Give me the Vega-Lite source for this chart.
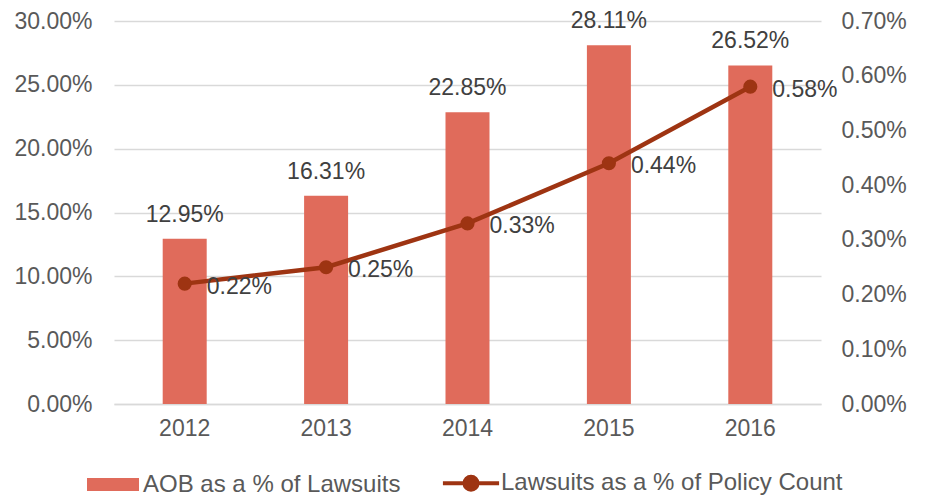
{
  "$schema": "https://vega.github.io/schema/vega-lite/v6.json",
  "autosize": "none",
  "width": 707,
  "height": 383,
  "padding": {"left": 114, "top": 21, "right": 105, "bottom": 91},
  "background": "white",
  "config": {
    "font": "Liberation Sans",
    "view": {"stroke": null},
    "axis": {"labelFont": "Liberation Sans", "labelFontSize": 23, "labelColor": "#595959", "ticks": false, "title": null},
    "legend": {"labelFont": "Liberation Sans"}
  },
  "data": {
    "values": [
      {"year": "2012", "aob": 0.1295, "law": 0.0022},
      {"year": "2013", "aob": 0.1631, "law": 0.0025},
      {"year": "2014", "aob": 0.2285, "law": 0.0033},
      {"year": "2015", "aob": 0.2811, "law": 0.0044},
      {"year": "2016", "aob": 0.2652, "law": 0.0058}
    ]
  },
  "encoding": {
    "x": {
      "field": "year", "type": "nominal",
      "scale": {"paddingInner": 0, "paddingOuter": 0},
      "axis": {"labelAngle": 0, "domainColor": "#D9D9D9", "domainWidth": 1.5, "labelPadding": 13, "grid": false}
    }
  },
  "layer": [
    {
      "encoding": {
        "y": {
          "field": "aob", "type": "quantitative",
          "scale": {"domain": [0, 0.3], "nice": false},
          "axis": {"orient": "left", "format": ".2%", "values": [0, 0.05, 0.1, 0.15, 0.2, 0.25, 0.3], "domain": false, "grid": true, "gridColor": "#D9D9D9", "gridWidth": 1.5, "labelPadding": 22}
        }
      },
      "layer": [
        {
          "mark": {"type": "bar", "size": 44},
          "encoding": {
            "color": {
              "datum": "AOB as a % of Lawsuits",
              "scale": {"domain": ["AOB as a % of Lawsuits", "Lawsuits as a % of Policy Count"], "range": ["#E06B5B", "#9E3412"]},
              "legend": {
                "orient": "none", "legendX": -13, "legendY": 450, "direction": "horizontal", "title": null,
                "labelFontSize": 24, "labelColor": "#595959", "labelOffset": 18, "labelLimit": 1000,
                "symbolSize": 2704, "columnPadding": 33,
                "encode": {
                  "symbols": {
                    "update": {
                      "shape": {"signal": "datum.value == 'AOB as a % of Lawsuits' ? 'M-1,-0.25H1V0.25H-1Z' : 'M-1.08,0H1.08M0.25,0A0.25,0.25,0,1,1,-0.25,0A0.25,0.25,0,1,1,0.25,0Z'"},
                      "fill": {"signal": "datum.value == 'AOB as a % of Lawsuits' ? '#E06B5B' : '#9E3412'"},
                      "stroke": {"signal": "datum.value == 'AOB as a % of Lawsuits' ? '#E06B5B' : '#9E3412'"},
                      "strokeWidth": {"signal": "datum.value == 'AOB as a % of Lawsuits' ? 0 : 4"},
                      "opacity": {"value": 1},
                      "fillOpacity": {"value": 1}
                    }
                  }
                }
              }
            }
          }
        },
        {
          "mark": {"type": "text", "baseline": "bottom", "dy": -12, "fontSize": 23, "color": "#404040", "font": "Liberation Sans"},
          "encoding": {
            "text": {"field": "aob", "type": "quantitative", "format": ".2%"}
          }
        }
      ]
    },
    {
      "encoding": {
        "y": {
          "field": "law", "type": "quantitative",
          "scale": {"domain": [0, 0.007], "nice": false},
          "axis": {"orient": "right", "format": ".2%", "values": [0, 0.001, 0.002, 0.003, 0.004, 0.005, 0.006, 0.007], "domain": false, "grid": false, "labelPadding": 20}
        }
      },
      "layer": [
        {
          "mark": {"type": "line", "strokeWidth": 4.5, "point": {"filled": true, "size": 200}},
          "encoding": {
            "color": {"datum": "Lawsuits as a % of Policy Count"}
          }
        },
        {
          "mark": {"type": "text", "align": "left", "baseline": "middle", "dx": 22, "dy": 3, "fontSize": 23, "color": "#404040", "font": "Liberation Sans"},
          "encoding": {
            "text": {"field": "law", "type": "quantitative", "format": ".2%"}
          }
        }
      ]
    }
  ],
  "resolve": {"scale": {"y": "independent"}}
}
